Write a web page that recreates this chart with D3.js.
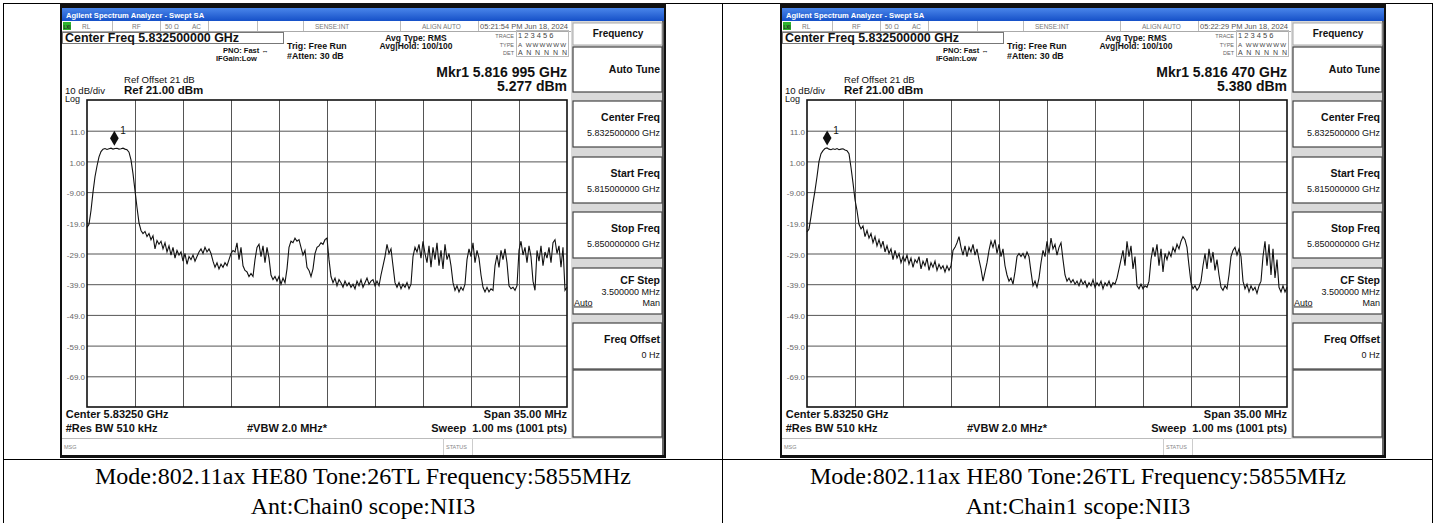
<!DOCTYPE html>
<html>
<head>
<title>Swept SA plots</title>
<script src="https://d3js.org/d3.v7.min.js"></script>
<style>
	body {margin:0; background:white;}
	text {font-family:"Liberation Sans", Arial, sans-serif;}
	.caption {font-family:"Liberation Serif", "Times New Roman", serif;}
</style>
</head>
<body>
<div id="mydiv"></div>
<script>
// sweep settings (MHz)
var freqStart = 5815, freqStop = 5850;
var freqGrid = [5818.5, 5822, 5825.5, 5829, 5832.5, 5836, 5839.5, 5843, 5846.5];
var refTop = 21, refBottom = -79;
var levelGrid = [11, 1, -9, -19, -29, -39, -49, -59, -69];
var levelLabels = ["11.0", "1.00", "-9.00", "-19.0", "-29.0", "-39.0", "-49.0", "-59.0", "-69.0"];

// traces, dBm, 241 points across the span
var chain0 = [
	-20.5,-19.5,-15,-9,-4,-0.5,2.5,4.2,5.0,5.2,4.9,5.1,5.3,5.0,5.2,5.28,5.0,5.1,5.3,5.0,4.8,
	4.0,1.5,-3,-8.5,-14,-19,-21.5,-22.5,-21.8,-23.5,-22.5,-24.5,-23.2,-27.5,-24.8,-26,-25,-27.5,-25.5,
	-28.5,-26.5,-29.5,-27,-30.5,-28,-29.5,-28.5,-31.5,-29,-32.5,-30,-31,-29.5,-31.5,-30,-28.5,-27.5,-29,-27,
	-28.5,-27.5,-29,-31.5,-33.5,-32,-34,-32.5,-33.5,-32,-33,-31,-29,-28,-28.5,-25.5,-31,-27,-33,-34.5,
	-35,-36.5,-35.5,-36.5,-31,-27,-26,-30,-26.5,-32,-27,-30.5,-36,-37.5,-36.5,-38,-36.5,-39,-37,-38.5,
	-34,-27,-25,-25.5,-24,-25,-24.5,-27,-29.5,-28,-33.5,-34.5,-36.5,-34,-29,-27,-26.5,-25.5,-26,-24.5,
	-24,-31,-36.5,-38.5,-37,-39.5,-37.5,-38.5,-40,-38,-39.5,-38.5,-40,-39,-40.5,-38,-39.5,-37.5,-40,-38.5,
	-37,-39,-38,-37.5,-39.5,-38,-39.5,-36,-33,-30,-26,-29,-27.5,-33,-38.5,-40,-38.5,-40.5,-39,-40,
	-38.5,-40.5,-39,-30,-27,-28.5,-26,-30.5,-25,-29,-32,-26.5,-33.5,-27,-31,-25.5,-33,-28,-34,-26,
	-31,-29,-33,-38.5,-41,-39.5,-41.5,-40,-41,-39,-31,-27.5,-30,-25.5,-32,-28,-30.5,-36,-40,-41.5,
	-40,-41.5,-40.5,-41,-33,-29.5,-33.5,-28,-31,-27.5,-32,-39.5,-40.5,-40,-41,-39.5,-28,-25,-29.5,-27,
	-32,-26.5,-30,-38,-41,-28,-31.5,-26.5,-33,-28.5,-30.5,-27,-32,-25.5,-24.5,-29,-26.5,-33.5,-27,-41,
	-40
];
var chain1 = [
	-22,-21,-17,-12.5,-8.5,-4,1,3.5,4.5,5.2,5.38,5.0,4.8,5.1,4.9,5.2,4.8,5.0,5.1,4.7,4.5,
	3.5,-1,-6,-11.5,-15,-19.5,-21,-20,-23.5,-21.5,-24,-22.5,-25.5,-23.5,-26.5,-24.5,-27,-25,-28.5,
	-26.5,-29,-27.5,-31,-28,-30.5,-29,-32,-30,-31.5,-29.5,-32.5,-30.5,-33.5,-31,-32,-30,-34,-31.5,-33,
	-30.5,-34.5,-32,-33.5,-31.5,-34.5,-32.5,-34,-33,-35,-33,-34.5,-33,-28,-27,-25.5,-23.5,-27,-29.5,-26.5,
	-30,-27,-28.5,-26,-29.5,-27.5,-31,-34,-38,-35,-32,-28,-25,-27,-24.5,-29,-26,-30,-27.5,-33,
	-36,-38,-37,-39,-35,-30,-29,-30,-29,-30.5,-28.5,-30,-35,-39.5,-38,-40,-37,-32,-28,-30,
	-25,-29,-24,-27.5,-26,-29.5,-27,-25.5,-31,-36,-38,-37,-38.5,-37.5,-39,-38,-39.5,-37.5,-39,-38,
	-40,-38.5,-39.5,-37.5,-40,-38.5,-39.5,-38,-40.5,-38.5,-39.5,-38,-40,-38.5,-39,-37,-34,-31,-28,-33,
	-25,-30,-26.5,-34,-30,-39.5,-40.5,-39,-40.5,-39.5,-40,-38,-31,-27,-30,-26,-33,-27.5,-35,-29,
	-31,-28.5,-30,-27,-28.5,-26,-27.5,-25,-23.5,-24.5,-27,-33,-38.5,-40.5,-39.5,-41,-40,-38,-33,-29,
	-34,-27.5,-32,-28.5,-34.5,-31,-36,-40,-41,-39.5,-40.5,-36,-30,-28,-27,-29.5,-27.5,-30,-38,-40.5,
	-39,-41.5,-39.5,-41,-40,-42,-39.5,-38,-30,-25,-33,-26,-36,-27.5,-37,-31,-40,-41.5,-39.5,-41.5,
	-40
];

var traces = [chain0, chain1];
var markerFreq = [5816.995, 5816.470];
var markerLevel = [5.277, 5.380];
var markerText = [["Mkr1 5.816 995 GHz", "5.277 dBm"], ["Mkr1 5.816 470 GHz", "5.380 dBm"]];
var clockText = ["05:21:54 PM Jun 18, 2024", "05:22:29 PM Jun 18, 2024"];
var captionLine1 = ["Mode:802.11ax HE80 Tone:26TL Frequency:5855MHz", "Mode:802.11ax HE80 Tone:26TL Frequency:5855MHz"];
var captionLine2 = ["Ant:Chain0 scope:NII3", "Ant:Chain1 scope:NII3"];
var softkeyTitle = ["Center Freq", "Start Freq", "Stop Freq", "CF Step", "Freq Offset"];
var softkeyValue = ["5.832500000 GHz", "5.815000000 GHz", "5.850000000 GHz", "3.500000 MHz", "0 Hz"];

var svg = d3.select("#mydiv").append("svg")
	.attr("width", 1436)
	.attr("height", 523);

var defs = svg.append("defs");
var grad = defs.append("linearGradient").attr("id", "titlebar").attr("x1", 0).attr("x2", 0).attr("y1", 0).attr("y2", 1);
grad.append("stop").attr("offset", "0%").attr("stop-color", "#4a86ea");
grad.append("stop").attr("offset", "100%").attr("stop-color", "#1550c8");

// table frame
svg.append("rect").attr("x", 3.5).attr("y", 3.5).attr("width", 1429).attr("height", 530)
	.attr("fill", "none").attr("stroke", "black").attr("stroke-width", 1);
svg.append("line").attr("x1", 722.5).attr("x2", 722.5).attr("y1", 3).attr("y2", 523)
	.attr("stroke", "black");
svg.append("line").attr("x1", 3).attr("x2", 1433).attr("y1", 459.5).attr("y2", 459.5)
	.attr("stroke", "black");

var sweepFreq = d3.range(241).map(function(i) { return freqStart + i * (freqStop - freqStart) / 240; });

function label(g, x, y, txt, size, weight, anchor, color) {
	return g.append("text")
		.attr("x", x).attr("y", y)
		.attr("font-size", size)
		.attr("font-weight", weight || "normal")
		.attr("text-anchor", anchor || "start")
		.attr("fill", color || "#111")
		.text(txt);
}

function drawScreen(k) {
	var ox = 62 + k * 720, oy = 8;

	// black frame of the screenshot
	svg.append("rect").attr("x", ox - 2).attr("y", 3).attr("width", 606).attr("height", 455).attr("fill", "#111");
	var g = svg.append("g").attr("transform", "translate(" + ox + "," + oy + ")");
	g.append("rect").attr("x", 0).attr("y", 0).attr("width", 602).attr("height", 447).attr("fill", "white");

	// title bar
	g.append("rect").attr("x", 0).attr("y", 0).attr("width", 602).attr("height", 13).attr("fill", "url(#titlebar)");
	label(g, 4, 9.5, "Agilent Spectrum Analyzer - Swept SA", 7.6, "bold", "start", "white");

	// status row
	g.append("line").attr("x1", 0).attr("x2", 510).attr("y1", 23.5).attr("y2", 23.5).attr("stroke", "#aaa");
	[50, 98, 146, 195, 241, 338, 416].forEach(function(d) {
		g.append("line").attr("x1", d + 0.5).attr("x2", d + 0.5).attr("y1", 13).attr("y2", 23).attr("stroke", "#bbb");
	});
	g.append("rect").attr("x", 1).attr("y", 14).attr("width", 8).attr("height", 8).attr("fill", "#2db52d");
	label(g, 5, 20.5, "LXI", 4.5, "bold", "middle", "#222");
	label(g, 20, 21, "RL", 6.5, "normal", "start", "#777");
	label(g, 70, 21, "RF", 6.5, "normal", "start", "#777");
	label(g, 103, 21, "50 \u03A9", 6.5, "normal", "start", "#777");
	label(g, 130, 21, "AC", 6.5, "normal", "start", "#777");
	label(g, 253, 21, "SENSE:INT", 6.5, "normal", "start", "#777");
	label(g, 360, 21, "ALIGN AUTO", 6.5, "normal", "start", "#777");
	label(g, 418, 21, clockText[k], 6.6, "normal", "start", "#555").attr("textLength", 88).attr("lengthAdjust", "spacingAndGlyphs");

	// centre frequency box
	g.append("rect").attr("x", 0.5).attr("y", 24.5).attr("width", 221).attr("height", 11).attr("fill", "white").attr("stroke", "#777");
	label(g, 3, 34.3, "Center Freq 5.832500000 GHz", 12.4, "bold").attr("textLength", 174).attr("lengthAdjust", "spacingAndGlyphs");

	label(g, 161, 45, "PNO: Fast \u2194", 7.5, "bold");
	label(g, 154, 53, "IFGain:Low", 7.5, "bold");
	label(g, 225, 41, "Trig: Free Run", 8.8, "bold");
	label(g, 225, 51, "#Atten: 30 dB", 8.8, "bold");
	label(g, 354, 33, "Avg Type: RMS", 8.5, "bold", "middle");
	label(g, 354, 41, "Avg|Hold: 100/100", 8.5, "bold", "middle");

	// trace table
	g.append("rect").attr("x", 454.5).attr("y", 22.5).attr("width", 52).attr("height", 26).attr("fill", "none").attr("stroke", "#bbb");
	label(g, 452, 30, "TRACE", 5.5, "normal", "end", "#666");
	label(g, 452, 39, "TYPE", 5.5, "normal", "end", "#666");
	label(g, 452, 47, "DET", 5.5, "normal", "end", "#666");
	label(g, 456, 30, "1 2 3 4 5 6", 7.5, "normal", "start", "#444");
	label(g, 456, 39, "A WWWWWW", 6.2, "normal", "start", "#444").attr("textLength", 48);
	label(g, 456, 47, "A N N N N N", 7, "normal", "start", "#444").attr("textLength", 49);

	// marker readout
	label(g, 505, 69, markerText[k][0], 14, "bold", "end");
	label(g, 505, 83, markerText[k][1], 14, "bold", "end");

	// reference
	label(g, 62, 75, "Ref Offset 21 dB", 9.6);
	label(g, 62, 86, "Ref 21.00 dBm", 11.5, "bold");
	label(g, 3, 85.5, "10 dB/div", 9.6);
	label(g, 3, 93.8, "Log", 9);

	// plot
	var x = d3.scaleLinear().domain([freqStart, freqStop]).range([25, 505]);
	var y = d3.scaleLinear().domain([refBottom, refTop]).range([399, 92]);

	var gy = g.append("g").attr("transform", "translate(25,0)")
		.call(d3.axisLeft(y).tickValues(levelGrid).tickSize(-480).tickPadding(2)
			.tickFormat(function(d, i) { return levelLabels[i]; }));
	gy.select(".domain").remove();
	gy.selectAll("line").attr("stroke", "#555");
	gy.selectAll("text").attr("font-size", 8).attr("fill", "#666").attr("dy", "0.45em")
		.attr("font-family", "Liberation Sans, Arial, sans-serif");

	var gx = g.append("g").attr("transform", "translate(0,399)")
		.call(d3.axisBottom(x).tickValues(freqGrid).tickSize(-307).tickFormat(""));
	gx.select(".domain").remove();
	gx.selectAll("line").attr("stroke", "#555");

	g.append("rect").attr("x", x(freqStart)).attr("y", y(refTop))
		.attr("width", x(freqStop) - x(freqStart)).attr("height", y(refBottom) - y(refTop))
		.attr("fill", "none").attr("stroke", "#111").attr("stroke-width", 1.6);

	var line = d3.line()
		.x(function(d, i) { return x(sweepFreq[i]); })
		.y(function(d) { return y(d); });
	g.append("path").datum(traces[k])
		.attr("d", line)
		.attr("fill", "none")
		.attr("stroke", "#111")
		.attr("stroke-width", 1.1);

	// marker
	g.append("path")
		.attr("d", d3.symbol().type(d3.symbolDiamond).size(65))
		.attr("transform", "translate(" + x(markerFreq[k]) + "," + (y(markerLevel[k]) - 10) + ")")
		.attr("fill", "#111");
	label(g, x(markerFreq[k]) + 6, y(markerLevel[k]) - 14, "1", 10, "normal", "start", "#111");

	// bottom annotation
	label(g, 3.7, 410, "Center 5.83250 GHz", 11, "bold");
	label(g, 3.7, 423.7, "#Res BW 510 kHz", 11, "bold");
	label(g, 505, 410, "Span 35.00 MHz", 11, "bold", "end");
	label(g, 505, 423.7, "Sweep  1.00 ms (1001 pts)", 11, "bold", "end").attr("xml:space", "preserve");
	label(g, 185, 423.7, "#VBW 2.0 MHz*", 11, "bold");

	// message row
	g.append("line").attr("x1", 0).attr("x2", 510).attr("y1", 430.5).attr("y2", 430.5).attr("stroke", "#bbb");
	g.append("line").attr("x1", 381.5).attr("x2", 381.5).attr("y1", 430).attr("y2", 447).attr("stroke", "#ccc");
	g.append("line").attr("x1", 410.5).attr("x2", 410.5).attr("y1", 430).attr("y2", 447).attr("stroke", "#ccc");
	label(g, 2, 441, "MSG", 5.5, "normal", "start", "#888");
	label(g, 384, 441, "STATUS", 5.5, "normal", "start", "#888");

	// softkeys
	g.append("rect").attr("x", 509).attr("y", 13).attr("width", 93).attr("height", 418).attr("fill", "#d9d9d9");
	g.append("line").attr("x1", 601).attr("x2", 601).attr("y1", 13).attr("y2", 447).attr("stroke", "#333").attr("stroke-width", 1.5);
	g.append("rect").attr("x", 511).attr("y", 15).attr("width", 89).attr("height", 22).attr("fill", "white").attr("stroke", "#aaa");
	label(g, 556, 29, "Frequency", 10, "bold", "middle");
	g.append("rect").attr("x", 511).attr("y", 39).attr("width", 89).attr("height", 45).attr("fill", "white").attr("stroke", "#444").attr("stroke-width", 1.2);
	label(g, 598, 65, "Auto Tune", 10.5, "bold", "end");

	var keyTop = [93, 149, 204, 260, 315];
	softkeyTitle.forEach(function(t, i) {
		var ky = keyTop[i];
		g.append("rect").attr("x", 511).attr("y", ky).attr("width", 89).attr("height", 46)
			.attr("fill", "white").attr("stroke", "#444").attr("stroke-width", 1.2);
		if (t == "CF Step") {
			label(g, 598, ky + 16, t, 10.5, "bold", "end");
			label(g, 598, ky + 27, softkeyValue[i], 9, "normal", "end");
			label(g, 512, ky + 37.5, "Auto", 9, "normal", "start").attr("text-decoration", "underline");
			label(g, 598, ky + 37.5, "Man", 9, "normal", "end");
		} else {
			label(g, 598, ky + 19.5, t, 10.5, "bold", "end");
			label(g, 598, ky + 35, softkeyValue[i], 9, "normal", "end");
		}
	});
	g.append("rect").attr("x", 511).attr("y", 362).attr("width", 89).attr("height", 67).attr("fill", "white").attr("stroke", "#444").attr("stroke-width", 1.2);

	// caption below
	var cx = k == 0 ? 363 : 1078;
	svg.append("text").attr("class", "caption").attr("x", cx).attr("y", 484)
		.attr("text-anchor", "middle").attr("font-size", 24).attr("fill", "black").text(captionLine1[k]);
	svg.append("text").attr("class", "caption").attr("x", cx).attr("y", 514)
		.attr("text-anchor", "middle").attr("font-size", 24).attr("fill", "black").text(captionLine2[k]);
}

drawScreen(0);
drawScreen(1);
</script>
</body>
</html>
